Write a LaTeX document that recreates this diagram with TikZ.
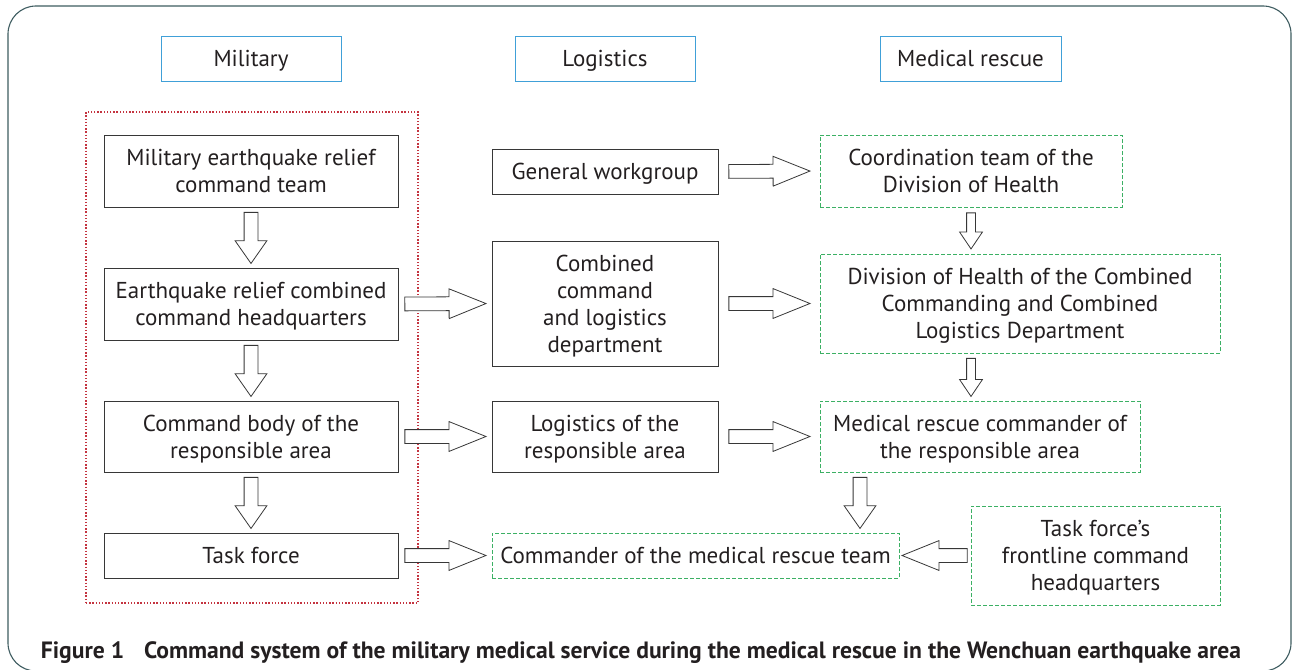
\documentclass[tikz,border=0pt]{standalone}
\usepackage{fontspec}
\setmainfont{PT Sans}
\usetikzlibrary{calc,shapes.arrows}

\definecolor{headblue}{RGB}{64,160,216}
\definecolor{areared}{RGB}{196,52,64}
\definecolor{medgreen}{RGB}{60,176,100}
\definecolor{boxgray}{RGB}{55,55,55}
\definecolor{framegray}{RGB}{62,92,96}
\definecolor{inkblack}{RGB}{35,31,32}

% fat outlined arrow between two points, gap #4 at each end
\newcommand\fatarrow[4][]{%
  \path let \p1=(#2), \p2=(#3),
    \n1={atan2(\y2-\y1,\x2-\x1)}, \n2={veclen(\x2-\x1,\y2-\y1)} in
    node[fat, #1, anchor=tail, rotate=\n1, minimum height=\n2-2*#4] at ($(\p1)!#4!(\p2)$) {};}

\begin{document}
\begin{tikzpicture}[x=1pt, y=-1pt]
        \tikzstyle{every node}=[text=inkblack, font=\fontsize{23}{27}\selectfont, align=center, inner sep=0pt, text depth=0pt]
        \tikzstyle{head}=[draw=headblue, line width=0.9pt, minimum width=180pt, minimum height=45pt]
        \tikzstyle{milbox}=[draw=boxgray, line width=0.9pt, minimum width=294pt]
        \tikzstyle{logbox}=[draw=boxgray, line width=0.9pt, minimum width=226pt]
        \tikzstyle{medbox}=[draw=medgreen, line width=0.9pt, dash pattern=on 4pt off 2pt]
        \tikzstyle{fat}=[draw=boxgray, fill=white, line width=0.8pt, single arrow, inner xsep=0pt, inner ysep=6.5pt,
          minimum width=0pt, single arrow head extend=8pt, single arrow tip angle=44, single arrow head indent=0pt]
        \tikzstyle{fatdown}=[single arrow head extend=9pt, single arrow tip angle=70]
        \tikzstyle{fatsmall}=[inner ysep=4pt, single arrow head extend=7pt, single arrow tip angle=68]
        \useasboundingbox (0,0) rectangle (1292,669);
        \draw[framegray, line width=1.1pt, rounded corners=28pt] (8,6) rectangle (1291,671);

        % column heads
        \node[head] (hmil) at (251,58.5) {Military};
        \node[head] (hlog) at (605,58.5) {Logistics};
        \node[head, minimum width=181pt] (hmed) at (970.5,58.5) {Medical rescue};

        % military column
        \node[draw=areared, line width=1.3pt, dash pattern=on 1.4pt off 1.8pt, minimum width=332pt, minimum height=491pt] (area) at (252,357.5) {};
        \node[milbox, minimum height=72pt] (team) at (251,171) {Military earthquake relief\\command team};
        \node[milbox, minimum height=72pt] (hq) at (251,304) {Earthquake relief combined\\command headquarters};
        \node[milbox, minimum height=71pt] (body) at (251,436.5) {Command body of the\\responsible area};
        \node[milbox, minimum height=45pt] (task) at (251,555.5) {Task force};

        % logistics column
        \node[logbox, minimum height=45pt] (work) at (605,171.5) {General workgroup};
        \node[logbox, minimum height=125pt] (dept) at (605,303.5) {Combined\\command\\and logistics\\department};
        \node[logbox, minimum height=71pt] (loga) at (605,436.5) {Logistics of the\\responsible area};
        \node[medbox, minimum width=407pt, minimum height=45pt] (cmdr) at (695.5,555.5) {Commander of the medical rescue team};

        % medical rescue column
        \node[medbox, minimum width=302pt, minimum height=72pt] (coord) at (971,171) {Coordination team of the\\Division of Health};
        \node[medbox, minimum width=400pt, minimum height=99pt] (divh) at (1020,303.5) {Division of Health of the Combined\\Commanding and Combined\\Logistics Department};
        \node[medbox, minimum width=320pt, minimum height=71pt] (resc) at (980,436.5) {Medical rescue commander of\\the responsible area};
        \node[medbox, minimum width=249pt, minimum height=99pt] (front) at (1095.5,555.5) {Task force’s\\frontline command\\headquarters};

        % arrows
        \fatarrow[fatdown]{team.south}{hq.north}{4.5pt}
        \fatarrow[fatdown]{hq.south}{body.north}{4.5pt}
        \fatarrow[fatdown]{body.south}{task.north}{4.5pt}
        \fatarrow{hq.east}{dept.west}{6pt}
        \fatarrow{body.east}{loga.west}{6pt}
        \fatarrow{task.east}{cmdr.west}{6pt}
        \fatarrow{work.east}{coord.west}{10pt}
        \fatarrow{dept.east}{divh.west}{10pt}
        \fatarrow{loga.east}{resc.west}{10pt}
        \fatarrow[fatsmall]{coord.south}{coord.south |- divh.north}{5pt}
        \fatarrow[fatsmall]{divh.south -| coord.south}{coord.south |- resc.north}{4.5pt}
        \coordinate (rfoot) at ([xshift=-120pt]resc.south);
        \fatarrow[fatdown]{rfoot}{rfoot |- cmdr.north}{4.5pt}
        \fatarrow{front.west}{cmdr.east}{3pt}

        % caption
        \node[anchor=base, font=\fontsize{23.6}{27}\bfseries] (cap) at (641,658)
          {Figure 1\hspace{20pt}Command system of the military medical service during the medical rescue in the Wenchuan earthquake area};
    \end{tikzpicture}
\end{document}
